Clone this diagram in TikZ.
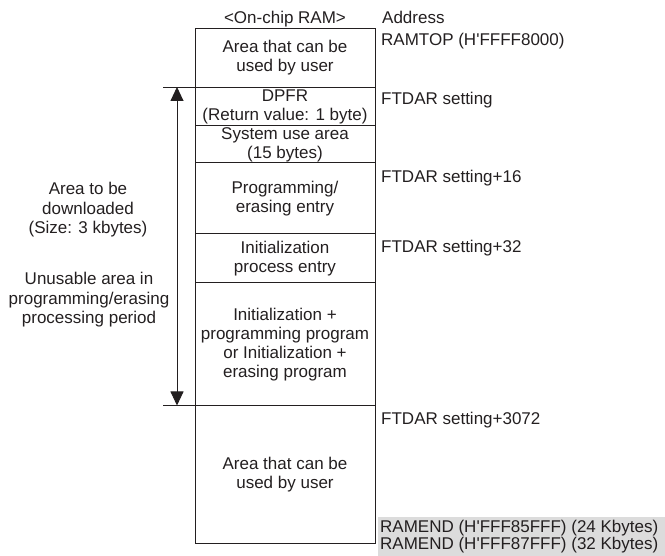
\documentclass[tikz,border=0pt]{standalone}
\usepackage{fontspec}
\setmainfont{Liberation Sans}
\usetikzlibrary{arrows.meta}
\definecolor{ink}{HTML}{231F20}
\definecolor{hl}{HTML}{DCDCDC}
\tikzset{
  region/.style={draw=ink, line width=0.9pt, minimum width=180pt, inner sep=0pt,
    anchor=north, align=center, font=\fontsize{17}{19}\selectfont, text=ink},
  addr/.style={anchor=base west, inner sep=0pt, font=\fontsize{17}{19}\selectfont, text=ink},
  side/.style={align=center, inner sep=0pt, font=\fontsize{17}{19.5}\selectfont, text=ink},
  tick/.style={draw=ink, line width=0.9pt},
  span/.style={draw=ink, line width=0.9pt, {Triangle[length=14pt,width=13pt]}-{Triangle[length=14pt,width=13pt]}}
}
\begin{document}
\begin{tikzpicture}[x=1pt,y=-1pt]
\useasboundingbox (0,0) rectangle (665,556);
% highlight behind RAMEND lines
\fill[hl] (378,517) rectangle (665,556);

\node[addr, anchor=base] (title) at (285,24) {<On-chip RAM>};

\node[region, minimum height=59pt] (r1) at (285,28) {Area that can be\\used by user};
\node[region, minimum height=38.5pt] (r2) at (285,87) {DPFR\\(Return value: 1 byte)};
\node[region, minimum height=37pt] (r3) at (285,125.5) {System use area\\(15 bytes)};
\node[region, minimum height=71pt] (r4) at (285,162.5) {Programming/\\erasing entry};
\node[region, minimum height=49pt] (r5) at (285,233.5) {Initialization\\process entry};
\node[region, minimum height=123pt] (r6) at (285,282.5) {Initialization +\\programming program\\or Initialization +\\erasing program};
\node[region, minimum height=137.5pt] (r7) at (285,405.5) {Area that can be\\used by user};

\node[addr] (a0) at (382,24) {Address};
\node[addr] (a1) at (381,46) {RAMTOP (H\textquotesingle FFFF8000)};
\node[addr] (a2) at (381,105) {FTDAR setting};
\node[addr] (a3) at (381,183) {FTDAR setting+16};
\node[addr] (a4) at (381,253) {FTDAR setting+32};
\node[addr] (a5) at (381,425) {FTDAR setting+3072};
\node[addr] (a6) at (380,532) {RAMEND (H\textquotesingle FFF85FFF) (24 Kbytes)};
\node[addr] (a7) at (380,549) {RAMEND (H\textquotesingle FFF87FFF) (32 Kbytes)};

\node[side] (dl) at (88,210) {Area to be\\downloaded\\(Size: 3 kbytes)};
\node[side] (un) at (89,300) {Unusable area in\\programming/erasing\\processing period};

\coordinate (tl) at (163,87);
\coordinate (tr) at (195,87);
\coordinate (bl) at (163,405.5);
\coordinate (br) at (195,405.5);
\coordinate (at) at (177,87);
\coordinate (ab) at (177,405.5);
\draw[tick] (tl) -- (tr);
\draw[tick] (bl) -- (br);
\draw[span] (at) -- (ab);
\end{tikzpicture}
\end{document}
